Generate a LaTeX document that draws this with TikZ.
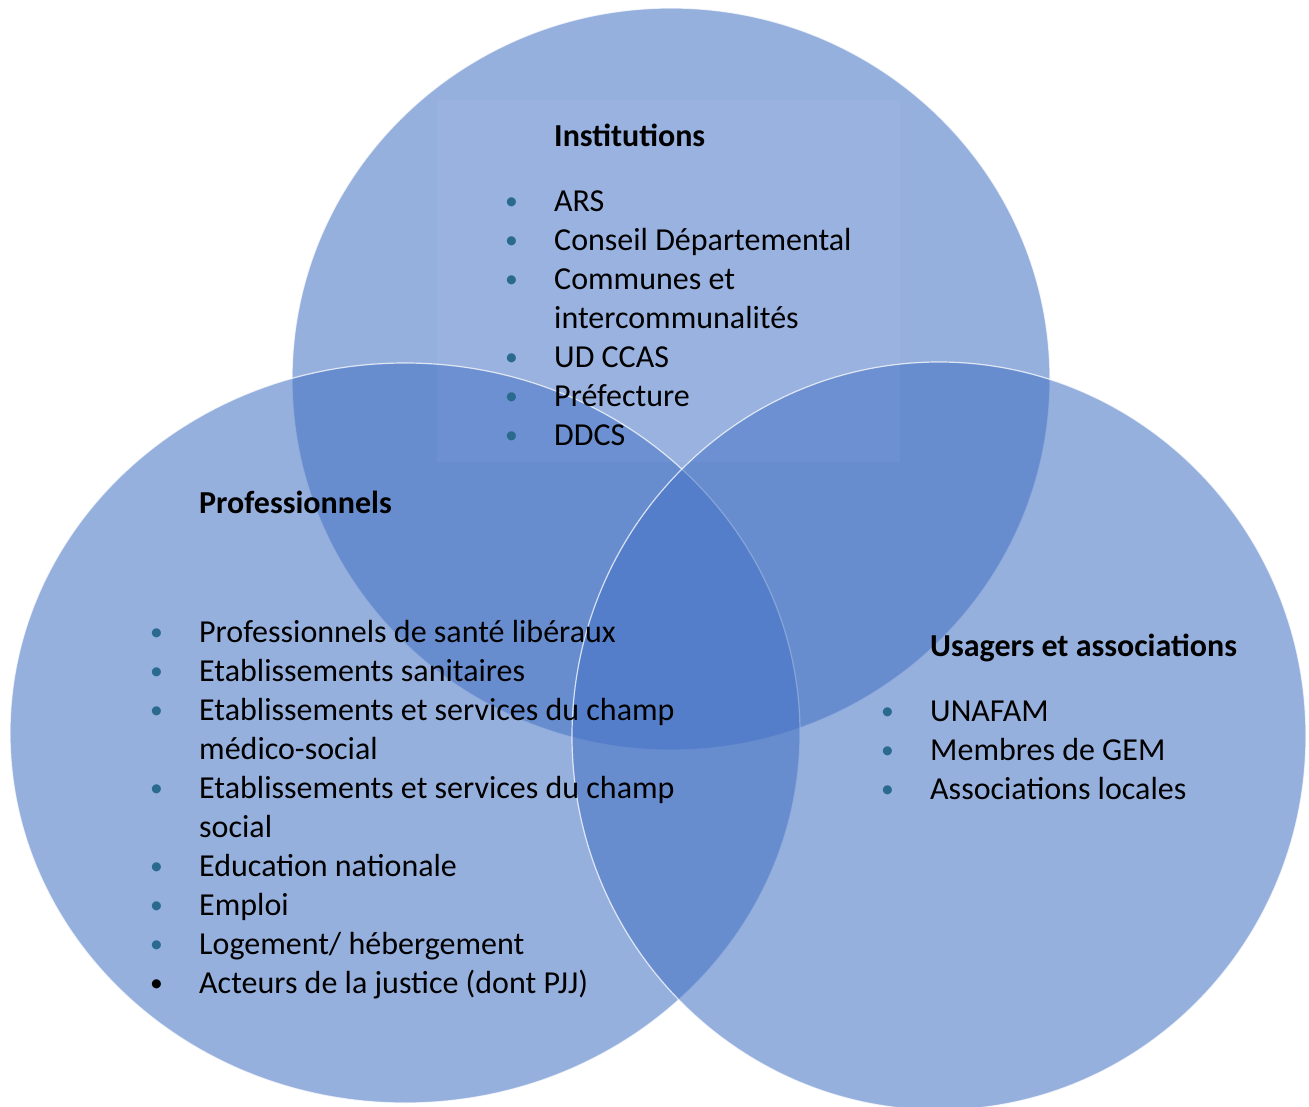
\documentclass[tikz,border=0pt]{standalone}
\usepackage{fontspec}
\setmainfont{Carlito}
\usepackage{xcolor}
\usetikzlibrary{positioning,calc}

\definecolor{vennblue}{HTML}{4472C4}
\definecolor{dotblue}{HTML}{2A6A8E}

% bullet hanging 49pt to the left of the text
\newcommand{\bul}[1][dotblue]{\makebox[0pt][r]{\makebox[49pt][l]{\raisebox{2pt}{\scalebox{0.8}{\textcolor{#1}{\textbullet}}}}}}

\tikzset{
    venn/.style={fill=vennblue, fill opacity=0.56, draw=white, draw opacity=0.75, line width=1.2pt},
    listtext/.style={anchor=base west, align=left, inner sep=0pt, font=\fontsize{32}{39}\selectfont}
}

\begin{document}
\begin{tikzpicture}[x=1pt,y=-1pt]
    \useasboundingbox (0,0) rectangle (1309,1106);

    % Circles
    \draw[venn] (671,379) ellipse [x radius=379, y radius=371];
    \draw[venn] (405,733) ellipse [x radius=395, y radius=370];
    \draw[venn] (939,736) ellipse [x radius=367, y radius=374];

    % Text box of the top circle
    \fill[white, opacity=0.03] (437,100) rectangle (900,462);

    % Institutions (placed by the baseline of its last line)
    \node[listtext] (inst) at (554,445) {\textbf{Institutions}\\[26pt]
        \bul ARS\\
        \bul Conseil Départemental\\
        \bul Communes et\\
        intercommunalités\\
        \bul UD CCAS\\
        \bul Préfecture\\
        \bul DDCS};

    % Professionnels
    \node[listtext] (pro) at (199,993) {\textbf{Professionnels}\\[90pt]
        \bul Professionnels de santé libéraux\\
        \bul Etablissements sanitaires\\
        \bul Etablissements et services du champ\\
        médico-social\\
        \bul Etablissements et services du champ\\
        social\\
        \bul Education nationale\\
        \bul Emploi\\
        \bul Logement/ hébergement\\
        \bul[black]Acteurs de la justice (dont PJJ)};

    % Usagers
    \node[listtext] (usa) at (930,799) {\textbf{Usagers et associations}\\[26pt]
        \bul UNAFAM\\
        \bul Membres de GEM\\
        \bul Associations locales};
\end{tikzpicture}
\end{document}
